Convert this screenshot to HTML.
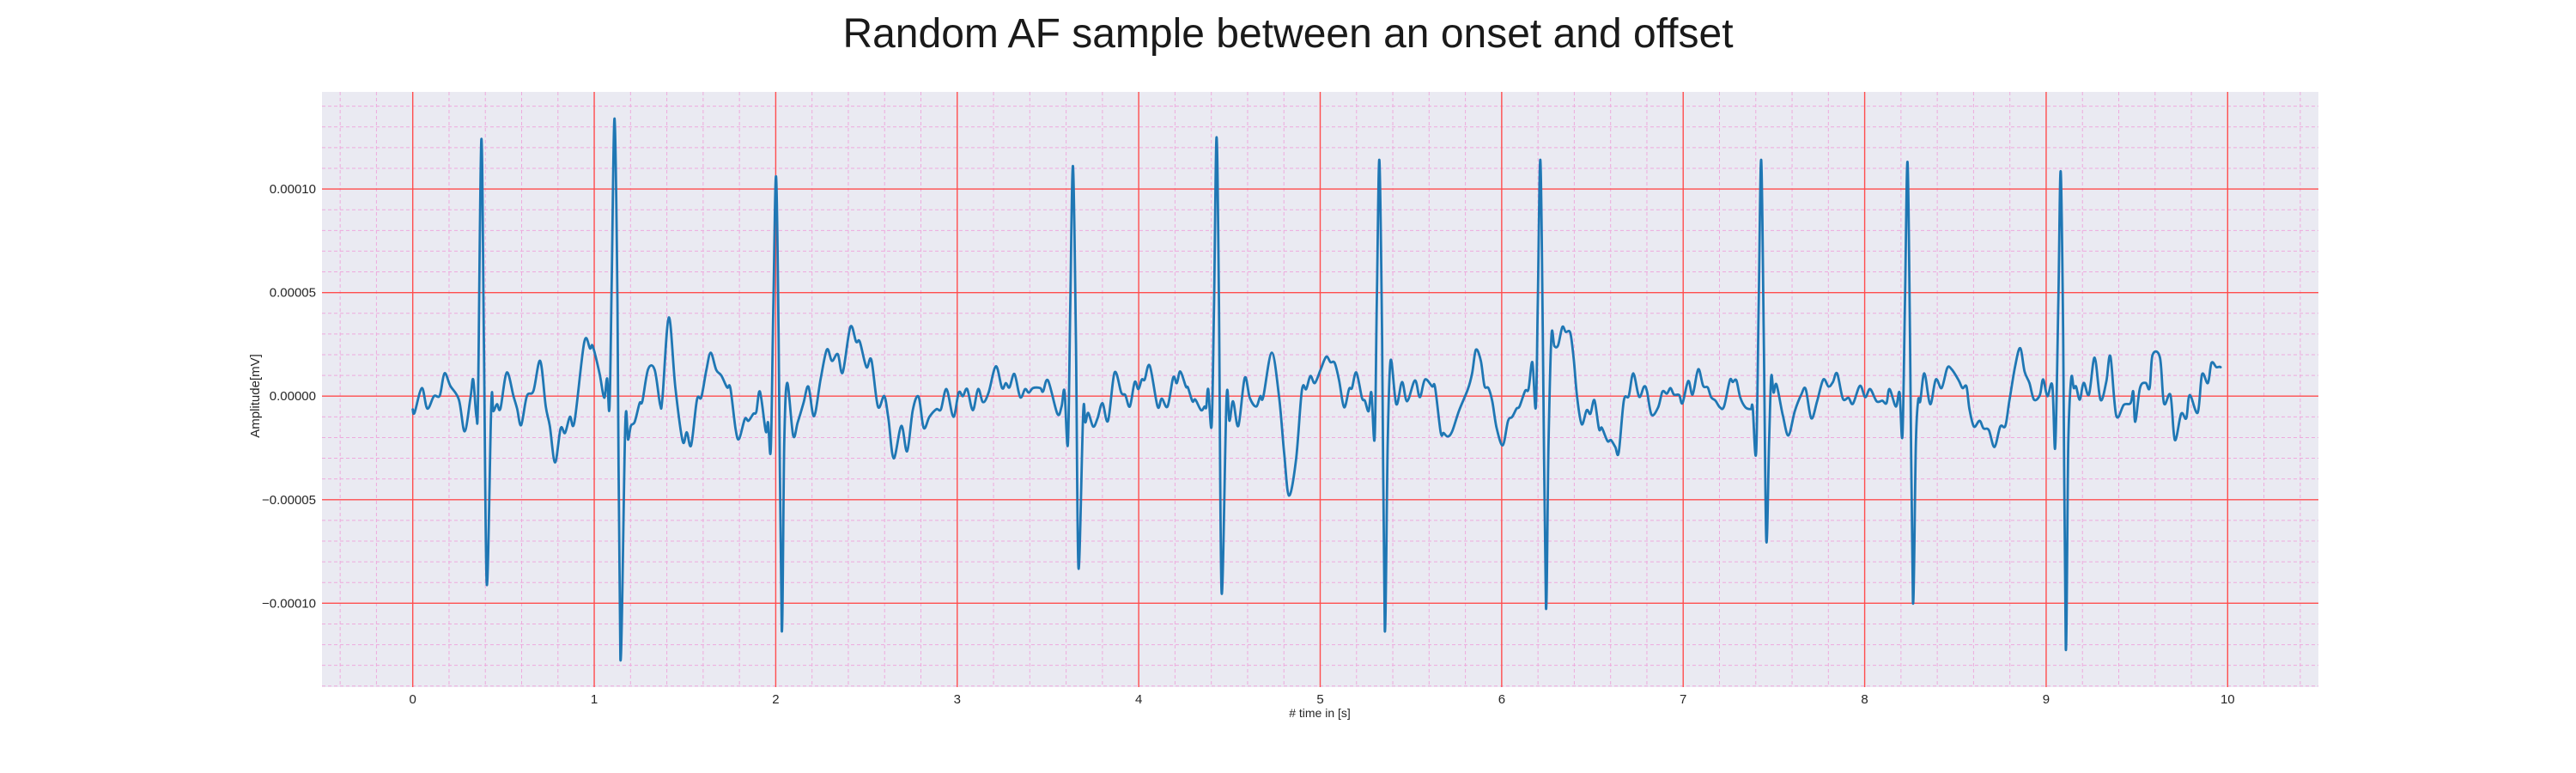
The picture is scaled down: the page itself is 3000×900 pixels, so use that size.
<!DOCTYPE html>
<html><head><meta charset="utf-8"><style>
html,body{margin:0;padding:0;background:#fff;}
svg{display:block;font-family:"Liberation Sans",Arial,sans-serif;}
</style></head><body>
<svg id="chart" width="3000" height="900" viewBox="0 0 3000 900" xmlns="http://www.w3.org/2000/svg">
<rect x="0" y="0" width="3000" height="900" fill="#ffffff"/>
<text x="1500" y="55" text-anchor="middle" font-size="48" fill="#1a1a1a">Random AF sample between an onset and offset</text>
<rect x="375" y="107" width="2325" height="693" fill="#eaeaf2"/>
<g id="grid"></g>
<g id="series"></g>
<g id="ticks"></g>
<text x="1537" y="835" text-anchor="middle" font-size="14" fill="#262626"># time in [s]</text>
<text transform="translate(302,461) rotate(-90)" text-anchor="middle" font-size="15" fill="#262626">Amplitude[mV]</text>
</svg>
<script>
// data: time in seconds, amplitude in units of 1e-5 mV
const times = [0,0.01,0.05,0.08,0.117,0.149,0.175,0.207,0.254,0.286,0.318,0.333,0.351,0.36,0.378,0.392,0.408,0.433,0.444,0.464,0.483,0.518,0.555,0.575,0.597,0.629,0.665,0.702,0.733,0.755,0.784,0.815,0.839,0.866,0.891,0.945,0.977,0.992,1.029,1.055,1.071,1.084,1.096,1.112,1.128,1.144,1.171,1.186,1.202,1.223,1.25,1.265,1.297,1.333,1.363,1.376,1.411,1.447,1.487,1.51,1.534,1.566,1.59,1.618,1.642,1.672,1.7,1.732,1.75,1.779,1.798,1.83,1.85,1.877,1.893,1.913,1.945,1.958,1.973,1.987,2.002,2.016,2.033,2.047,2.063,
2.096,2.121,2.153,2.18,2.211,2.247,2.282,2.31,2.342,2.369,2.411,2.443,2.463,2.5,2.527,2.563,2.598,2.621,2.65,2.692,2.724,2.755,2.787,2.815,2.847,2.885,2.91,2.941,2.979,3.008,3.031,3.055,3.086,3.115,3.142,3.173,3.213,3.247,3.268,3.288,3.315,3.347,3.374,3.394,3.418,3.457,3.473,3.5,3.552,3.575,3.591,3.61,3.623,3.638,3.654,3.668,3.694,3.706,3.722,3.749,3.773,3.8,3.831,3.867,3.904,3.926,3.951,3.978,3.998,4.017,4.033,4.061,4.104,4.127,4.159,4.19,4.21,
4.229,4.26,4.271,4.296,4.312,4.344,4.363,4.372,4.383,4.402,4.415,4.429,4.442,4.457,4.484,4.5,4.52,4.549,4.584,4.612,4.647,4.67,4.686,4.733,4.773,4.801,4.828,4.867,4.899,4.923,4.946,4.97,5.002,5.033,5.057,5.08,5.104,5.132,5.159,5.175,5.199,5.23,5.246,5.267,5.282,5.3,5.312,5.326,5.341,5.356,5.372,5.388,5.419,5.451,5.479,5.522,5.549,5.577,5.617,5.633,5.664,5.68,5.703,5.727,5.766,5.814,5.837,5.858,5.885,5.905,5.927,5.948,5.972,6.006,6.035,6.058,6.082,6.098,6.129,6.148,6.169,6.188,6.199,6.213,6.227,6.244,6.258,6.274,6.29,6.311,
6.334,6.353,6.378,6.397,6.416,6.441,6.468,6.489,6.511,6.536,6.552,6.583,6.602,6.626,6.645,6.673,6.7,6.725,6.757,6.784,6.8,6.826,6.862,6.886,6.91,6.93,6.949,6.978,6.996,7.028,7.052,7.083,7.11,7.135,7.154,7.178,7.202,7.225,7.257,7.273,7.293,7.315,7.343,7.372,7.383,7.402,7.416,7.43,7.444,7.458,7.473,7.485,7.498,7.514,7.549,7.58,7.615,7.651,7.675,7.706,7.738,7.772,7.801,7.825,7.848,7.88,7.911,7.935,7.974,8.003,8.03,8.066,8.097,8.12,8.137,8.172,8.192,8.208,8.222,8.236,8.25,8.266,8.282,8.295,8.306,8.329,8.361,8.392,8.424,8.455,8.479,
8.518,8.539,8.561,8.577,8.602,8.633,8.655,8.684,8.715,8.747,8.775,8.797,8.829,8.857,8.881,8.908,8.933,8.965,8.983,9.007,9.034,9.05,9.067,9.08,9.094,9.108,9.122,9.138,9.152,9.165,9.185,9.207,9.236,9.267,9.299,9.331,9.354,9.386,9.428,9.465,9.48,9.491,9.517,9.548,9.57,9.586,9.627,9.649,9.685,9.709,9.744,9.772,9.791,9.835,9.859,9.891,9.911,9.938,9.961,9.98,9.998];
const amps = [-0.64,-0.8,0.39,-0.6,0,0.03,1.1,0.5,-0.17,-1.7,-0.08,0.8,-1.0,0.1,12.4,2.8,-9.1,-0.34,-0.73,-0.39,-0.6,1.14,0,-0.6,-1.4,0,0.25,1.7,-0.5,-1.44,-3.2,-1.56,-1.78,-1.0,-1.24,2.6,2.3,2.4,1.1,-0.08,0.85,-0.56,5.3,13.4,4.5,-12.7,-1.36,-2.1,-1.44,-1.24,-0.34,-0.25,1.3,1.27,-0.42,-0.08,3.8,0.42,-2.17,-1.75,-2.37,-0.17,-0.05,1.27,2.1,1.27,1.0,0.42,0.39,-1.6,-2.07,-1.1,-1.19,-0.85,-0.76,0.22,-1.7,-1.27,-2.54,4.5,10.6,2.8,-11.3,-2.3,0.64,
-1.9,-1.27,-0.34,0.46,-0.97,0.8,2.25,1.7,2.03,1.14,3.34,2.63,2.63,1.4,1.75,-0.5,0,-1.1,-3.0,-1.44,-2.66,-0.68,-0.03,-1.53,-1.0,-0.63,-0.64,0.34,-1.0,0.17,0,0.34,-0.68,0.34,-0.29,0.17,1.44,0.39,0.63,0.42,1.07,-0.05,0.34,0.17,0.39,0.39,0.22,0.76,-0.85,-0.5,0.25,-2.3,4.5,11.1,2.8,-8.3,-0.8,-1.27,-0.81,-1.47,-1.07,-0.34,-1.19,1.14,0.17,0.05,-0.5,0.68,0.34,0.8,0.8,1.47,-0.5,-0.12,-0.5,0.9,0.63,
1.19,0.46,0.42,-0.25,-0.17,-0.68,-0.5,-0.54,0.34,-1.4,4.5,12.5,4.5,-9.5,-0.12,-1.19,-0.25,-1.44,0.88,-0.08,-0.5,0,-0.05,2.1,0,-2.7,-4.8,-3.05,0.29,0.34,0.97,0.63,1.27,1.9,1.64,1.6,0.76,-0.54,0.34,0.39,1.14,-0.08,-0.22,-0.73,0.17,-2.03,4.5,11.4,2.8,-11.3,-2.3,1.73,-0.39,0.68,-0.25,0.76,-0.05,0.8,0.47,0.42,-1.75,-1.78,-1.95,-1.7,-0.68,0.34,1.1,2.24,1.7,0.5,0.39,-0.25,-1.53,-2.37,-1.19,-1.0,-0.6,-0.5,0.25,0.34,1.64,-0.54,4.5,11.4,2.8,-10.2,-2.3,2.9,2.42,2.46,
3.34,3.1,3.05,1.78,-0.08,-1.36,-0.68,-0.85,-0.2,-1.58,-1.53,-2.17,-2.12,-2.46,-2.71,-0.22,0,1.1,-0.03,0.46,0.25,-0.9,-0.54,0.22,0.12,0.39,0.08,0.05,-0.34,0.73,0.08,1.3,0.5,0.42,-0.05,-0.22,-0.54,-0.5,0.76,0.68,0.76,-0.08,-0.54,-0.63,-0.54,-2.71,4.5,11.4,2.8,-6.95,-2.3,0.93,0.17,0.56,-0.93,-1.9,-0.73,0.08,0.34,-1.07,-0.25,0.8,0.46,0.68,1.1,-0.12,-0.08,-0.37,0.5,-0.05,0.34,-0.25,-0.22,-0.34,0.34,-0.5,0.17,-1.9,4.5,11.3,2.8,-9.95,-2.3,-0.2,-0.25,1.1,-0.39,0.8,0.39,1.36,1.3,
0.76,0.39,0.46,-0.6,-1.47,-1.19,-1.56,-1.64,-2.46,-1.47,-1.44,-0.25,1.44,2.32,1.19,0.63,-0.17,0.05,0.81,0,0.51,-2.46,4.5,10.85,2.8,-12.2,-2.3,0.85,0.39,0.46,-0.17,0.64,0.08,1.86,-0.17,0.68,1.92,-0.93,-0.42,-0.34,0.22,-1.24,0.39,0.64,0.39,1.98,1.86,-0.34,0.05,-2.12,-0.85,-1.07,0.05,-0.8,1.05,0.63,1.61,1.4,1.4,1.05];
const xTickValues = [0,1,2,3,4,5,6,7,8,9,10];
const yTickValues = [-0.0001,-0.00005,0,0.00005,0.0001];
const yTickLabels = ["\u22120.00010","\u22120.00005","0.00000","0.00005","0.00010"];

const NS = "http://www.w3.org/2000/svg";
const L = 375, R = 2700, T = 107, B = 800;
const xMin = -0.5, xMax = 10.5, yMin = -0.0001405, yMax = 0.0001469;
function xs(v){ return L + (v - xMin) / (xMax - xMin) * (R - L); }
function ys(v){ return B - (v - yMin) / (yMax - yMin) * (B - T); }
function mk(tag, attrs, parent){ const e = document.createElementNS(NS, tag); for (const k in attrs) e.setAttribute(k, attrs[k]); parent.appendChild(e); return e; }

const grid = document.getElementById('grid');
for (let i = -2; i <= 52; i++) {
  const v = i * 0.2; if (i % 5 === 0) continue;
  const x = xs(v); if (x < L || x > R) continue;
  const ln = mk('line', {x1:x, x2:x, y1:T, y2:B, stroke:'#eeaadd', 'stroke-width':1, 'stroke-dasharray':'4,3'}, grid);
  
  
}
for (let i = -14; i <= 14; i++) {
  if (i % 5 === 0) continue;
  const y = ys(i * 0.00001); if (y < T || y > B) continue;
  const ln = mk('line', {x1:L, x2:R, y1:y, y2:y, stroke:'#eeaadd', 'stroke-width':1, 'stroke-dasharray':'4,3'}, grid);
  
  
}
const ticks = document.getElementById('ticks');
xTickValues.forEach((v) => {
  const x = xs(v);
  const ln = mk('line', {x1:x, x2:x, y1:T, y2:B, stroke:'#ff4d4d', 'stroke-width':1.4}, grid);
  
  
  const t = mk('text', {x:x, y:819, 'text-anchor':'middle', 'font-size':15, fill:'#262626'}, ticks);
  t.textContent = String(v);
  
  
});
yTickValues.forEach((v, i) => {
  const y = ys(v);
  const ln = mk('line', {x1:L, x2:R, y1:y, y2:y, stroke:'#ff4d4d', 'stroke-width':1.4}, grid);
  
  
  const t = mk('text', {x:368, y:y + 5, 'text-anchor':'end', 'font-size':15, fill:'#262626'}, ticks);
  t.textContent = yTickLabels[i];
  
  
});
// series: smooth Catmull-Rom curve through data points
const series = document.getElementById('series');
const pts = times.map((t, i) => [xs(t), ys(amps[i] * 1e-5)]);
let d = 'M' + pts[0][0].toFixed(1) + ',' + pts[0][1].toFixed(1);
for (let i = 0; i < pts.length - 1; i++) {
  const p0 = pts[Math.max(0, i - 1)], p1 = pts[i], p2 = pts[i + 1], p3 = pts[Math.min(pts.length - 1, i + 2)];
  const k = 1 / 6;
  const c1x = p1[0] + (p2[0] - p0[0]) * k, c1y = p1[1] + (p2[1] - p0[1]) * k;
  const c2x = p2[0] - (p3[0] - p1[0]) * k, c2y = p2[1] - (p3[1] - p1[1]) * k;
  d += 'C' + c1x.toFixed(1) + ',' + c1y.toFixed(1) + ' ' + c2x.toFixed(1) + ',' + c2y.toFixed(1) + ' ' + p2[0].toFixed(1) + ',' + p2[1].toFixed(1);
}
const path = mk('path', {d:d, fill:'none', stroke:'#1f77b4', 'stroke-width':2.8, 'stroke-linejoin':'round', 'stroke-linecap':'round'}, series);


</script>
</body></html>
